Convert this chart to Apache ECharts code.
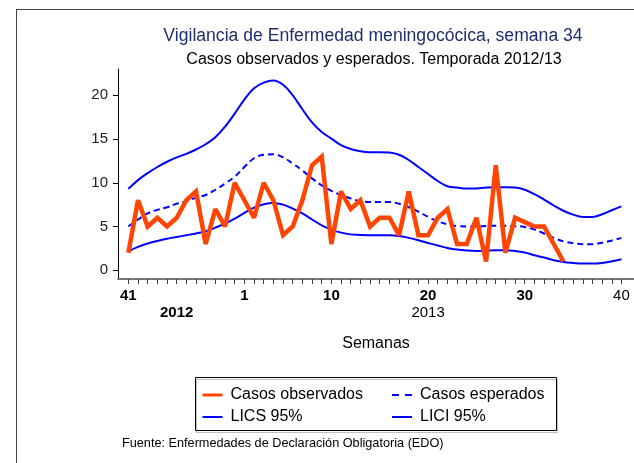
<!DOCTYPE html>
<html><head><meta charset="utf-8">
<script src="https://cdn.jsdelivr.net/npm/echarts@6/dist/echarts.min.js"></script>
<style>html,body{margin:0;padding:0;background:#fff}#c{width:634px;height:463px}</style>
</head><body><div id="c"></div>
<script>
// Weeks of the season: week 41 of 2012 to week 40 of 2013
const weeks = [41,42,43,44,45,46,47,48,49,50,51,52,1,2,3,4,5,6,7,8,9,10,11,12,13,14,15,16,17,18,19,20,21,22,23,24,25,26,27,28,29,30,31,32,33,34,35,36,37,38,39,40];
const observed = [2,8,5,6,5,6,8,9,3,7,5,10,8,6,10,8,4,5,8,12,13,3,9,7,8,5,6,6,4,9,4,4,6,7,3,3,6,1,12,2,6,5.5,5,5,3,1];
const expected = [5.0,5.8,6.5,6.9,7.2,7.6,7.9,8.3,8.6,9.2,9.9,10.7,11.8,12.8,13.2,13.25,12.9,12.2,11.4,10.5,9.7,9.07,8.6,8.2,7.9,7.8,
  7.8,7.8,7.6,7.2,6.7,6.1,5.6,5.25,5.05,5.0,5.0,5.05,5.1,5.1,5.05,4.95,4.65,4.2,3.7,3.3,3.1,2.97,2.97,3.15,3.4,3.7];
const lics = [9.3,10.3,11.1,11.8,12.4,12.9,13.3,13.8,14.4,15.2,16.4,17.9,19.5,20.8,21.45,21.7,21.2,20.0,18.4,16.9,15.8,15.05,14.3,13.85,13.6,13.5,
  13.5,13.45,13.2,12.6,11.8,11.0,10.2,9.6,9.45,9.33,9.35,9.45,9.5,9.5,9.45,9.2,8.7,8.08,7.4,6.8,6.36,6.1,6.1,6.4,6.86,7.3];
const lici = [2.17,2.67,3.05,3.35,3.6,3.8,4.0,4.2,4.46,4.87,5.33,5.9,6.55,7.16,7.54,7.7,7.5,7.05,6.5,5.8,5.14,4.65,4.3,4.1,4.04,4.0,
  4.0,4.0,3.92,3.7,3.43,3.12,2.82,2.55,2.36,2.25,2.2,2.25,2.29,2.29,2.2,2.02,1.71,1.45,1.14,0.95,0.84,0.76,0.76,0.84,1.03,1.26];
const weekTickLabels = [41,1,10,20,30,40];
const boldWeekLabels = [41,1,10,20,30];
const yearLabels = ['2012','2013'];
const yearLabelWeekIdx = [5,31];
const boldYears = ['2012'];
const yTicks = [0,5,10,15,20];

const idx = weeks.map((w,i)=>i);
const labelIdx = weekTickLabels.map(w => weeks.indexOf(w));
const toPairs = arr => arr.map((v,i)=>[i,v]);

const chart = echarts.init(document.getElementById('c'), null, {renderer:'canvas'});
const FONT = 'Liberation Sans, Arial, sans-serif';
const legendText = {fontSize:16,color:'#000',lineHeight:16,padding:[0,0,0,3],fontFamily:FONT};
chart.setOption({
  animation:false,
  textStyle:{fontFamily:FONT},
  grid:{left:118,right:0,top:69,bottom:184},
  xAxis:[{
    type:'value', min:-1.07, max:52.3, position:'bottom',
    axisLine:{onZero:false, lineStyle:{color:'#777',width:2}},
    axisTick:{customValues:idx, length:5, lineStyle:{color:'#444',width:1}},
    axisLabel:{customValues:labelIdx, margin:9,
      formatter:v=>{const w=weeks[Math.round(v)]; return boldWeekLabels.includes(w)?'{b|'+w+'}':'{n|'+w+'}';},
      rich:{b:{fontSize:15,fontWeight:'bold',color:'#000',fontFamily:FONT},n:{fontSize:15,color:'#000',fontFamily:FONT}}},
    splitLine:{show:false},
    name:'Semanas', nameLocation:'middle', nameGap:57,
    nameTextStyle:{fontSize:16,color:'#000',fontFamily:FONT}
  },{
    type:'value', min:-1.07, max:52.3, position:'bottom', gridIndex:0,
    axisLine:{show:false,onZero:false}, axisTick:{show:false}, splitLine:{show:false},
    axisLabel:{customValues:yearLabelWeekIdx, margin:26,
      formatter:v=>{const k=yearLabelWeekIdx.indexOf(Math.round(v)); const t=yearLabels[k]; return boldYears.includes(t)?'{b|'+t+'}':'{n|'+t+'}';},
      rich:{b:{fontSize:15,fontWeight:'bold',color:'#000',fontFamily:FONT},n:{fontSize:15,color:'#000',fontFamily:FONT}}}
  }],
  yAxis:{
    type:'value', min:-1, max:23,
    axisLine:{show:true,onZero:false,lineStyle:{color:'#000',width:1}},
    axisTick:{show:true,customValues:yTicks,length:5,lineStyle:{color:'#000'}},
    axisLabel:{customValues:yTicks,fontSize:15,color:'#222',margin:10,fontFamily:FONT},
    splitLine:{show:false}
  },
  legend:[{
    left:196, top:382, orient:'vertical', itemWidth:20, itemHeight:14, itemGap:6,
    itemStyle:{opacity:0},
    data:[{name:'Casos observados',lineStyle:{width:3}},{name:'LICS 95%',lineStyle:{width:2}}],
    textStyle:legendText
  },{
    left:386, top:382, orient:'vertical', itemWidth:20, itemHeight:14, itemGap:6,
    itemStyle:{opacity:0},
    data:[{name:'Casos esperados',lineStyle:{width:2,type:[7,6]}},{name:'LICI 95%',lineStyle:{width:2}}],
    textStyle:legendText
  }],
  series:[
    {name:'LICS 95%',type:'line',data:toPairs(lics),smooth:0.4,symbol:'none',lineStyle:{color:'#0000ff',width:2},itemStyle:{color:'#0000ff'},z:2},
    {name:'LICI 95%',type:'line',data:toPairs(lici),smooth:0.4,symbol:'none',lineStyle:{color:'#0000ff',width:2},itemStyle:{color:'#0000ff'},z:2},
    {name:'Casos esperados',type:'line',data:toPairs(expected),smooth:0.4,symbol:'none',lineStyle:{color:'#0000ff',width:2,type:[6,4]},itemStyle:{color:'#0000ff'},z:2},
    {name:'Casos observados',type:'line',data:toPairs(observed),symbol:'none',lineStyle:{color:'#ff4500',width:4.5,join:'miter',miterLimit:2.5},itemStyle:{color:'#ff4500'},z:3}
  ],
  graphic:[
    {type:'line',shape:{x1:16,y1:9.5,x2:634,y2:9.5},style:{stroke:'#444',lineWidth:1},silent:true},
    {type:'line',shape:{x1:16.5,y1:9,x2:16.5,y2:463},style:{stroke:'#444',lineWidth:1},silent:true},
    {type:'text',x:373,y:36,style:{text:'Vigilancia de Enfermedad meningocócica, semana 34',font:'17.6px '+FONT,fill:'#1f2f6b',textAlign:'center',textVerticalAlign:'middle'}},
    {type:'text',x:374,y:60,style:{text:'Casos observados y esperados. Temporada 2012/13',font:'16px '+FONT,fill:'#000',textAlign:'center',textVerticalAlign:'middle'}},
    {type:'rect',shape:{x:195.5,y:377.5,width:361,height:53},style:{fill:'none',stroke:'#000',lineWidth:1,shadowColor:'rgba(0,0,0,0.25)',shadowOffsetX:1,shadowOffsetY:2,shadowBlur:0},silent:true,z:-1},
    {type:'text',x:122,y:443,style:{text:'Fuente: Enfermedades de Declaración Obligatoria (EDO)',font:'12.7px '+FONT,fill:'#000',textAlign:'left',textVerticalAlign:'middle'}}
  ]
});
</script></body></html>
